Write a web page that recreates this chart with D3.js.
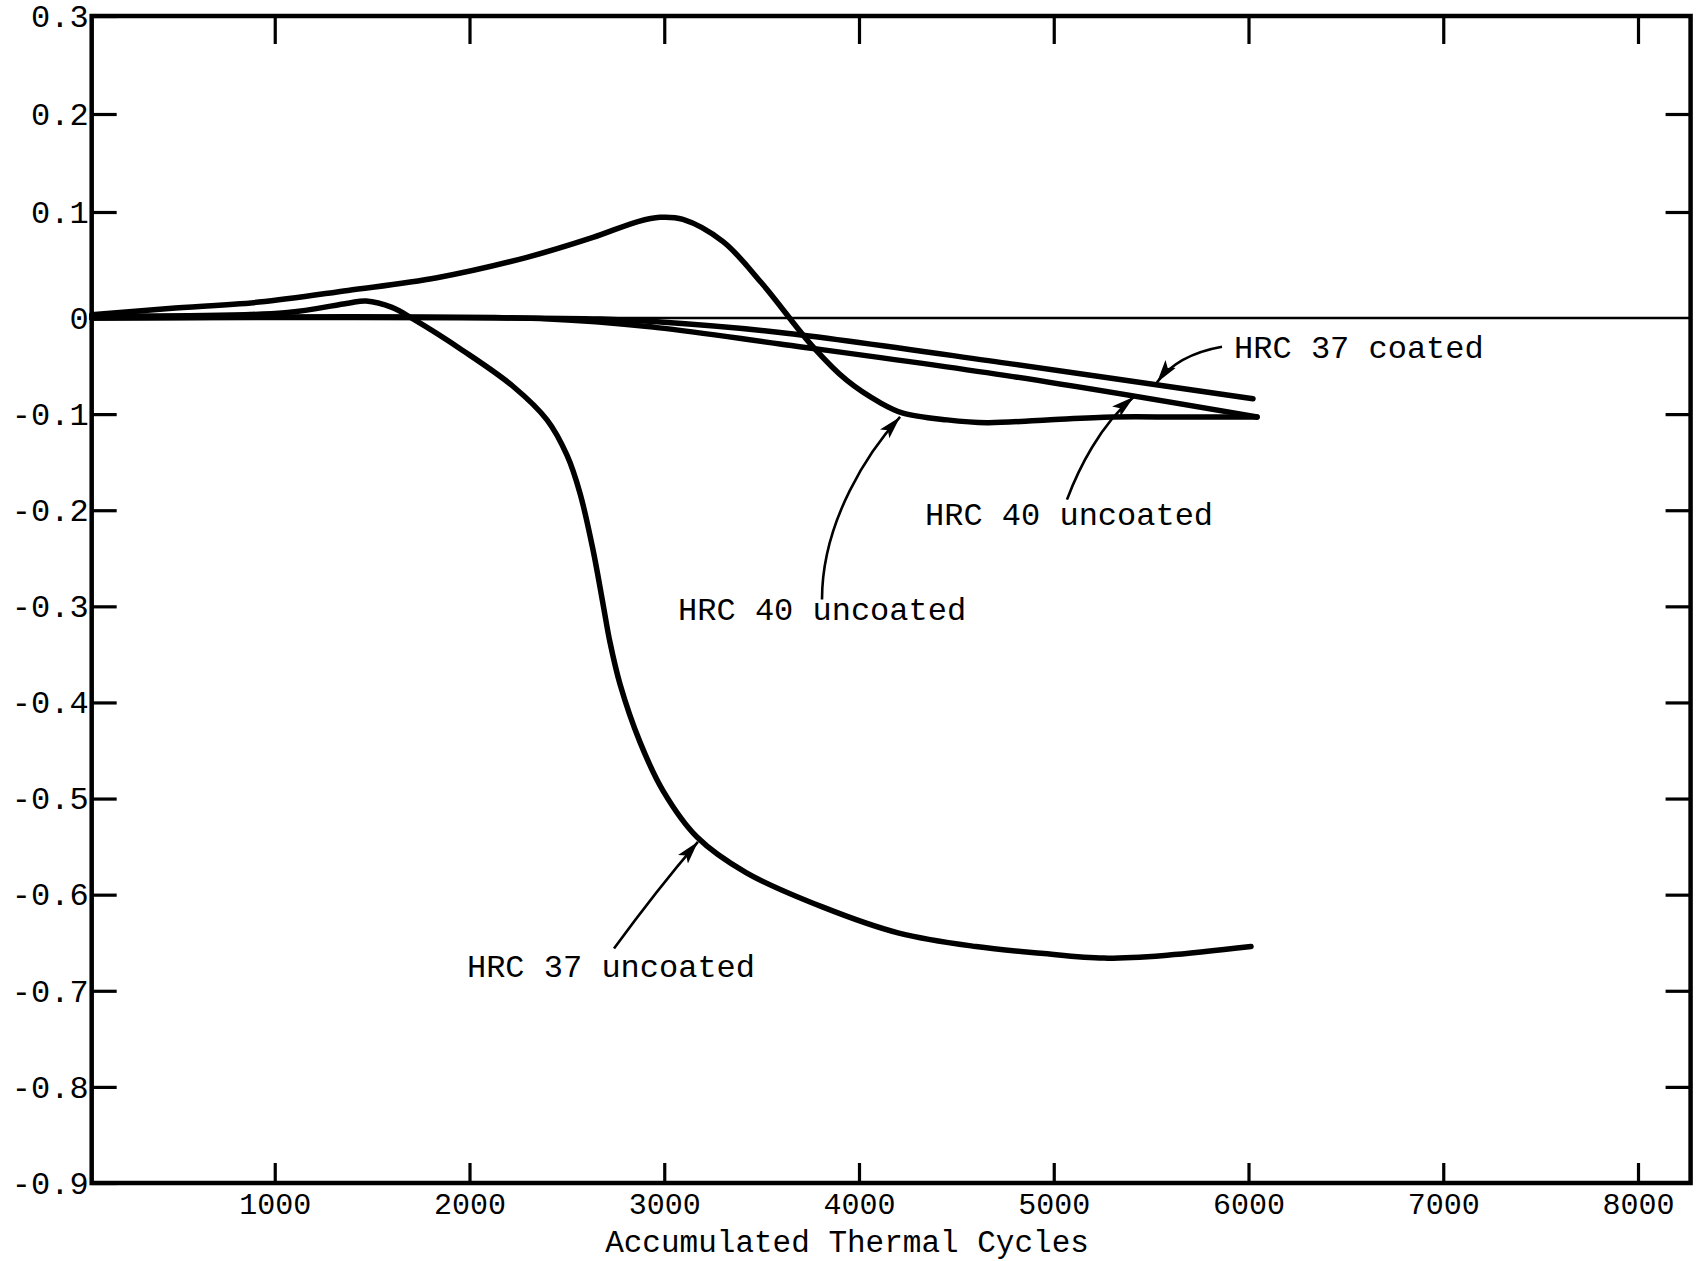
<!DOCTYPE html>
<html><head><meta charset="utf-8">
<script src="https://cdn.jsdelivr.net/npm/d3@7"></script>
<style>
html,body{margin:0;padding:0;background:#fff;}
svg{display:block;}
</style></head><body>
<svg id="chart" width="1697" height="1261"></svg>
<script>
// ---- tick values / labels ----
const xTicks = [1000, 2000, 3000, 4000, 5000, 6000, 7000, 8000];
const yTicks = [0.3, 0.2, 0.1, 0, -0.1, -0.2, -0.3, -0.4, -0.5, -0.6, -0.7, -0.8, -0.9];
const yTickLabels = ["0.3", "0.2", "0.1", "0", "-0.1", "-0.2", "-0.3", "-0.4", "-0.5", "-0.6", "-0.7", "-0.8", "-0.9"];
const xTitle = "Accumulated Thermal Cycles";

// ---- series ----
const hrc37UncoatedX = [60, 1053, 1376, 1469, 1602, 1710, 1967, 2223, 2398, 2501, 2567, 2634, 2686, 2721, 2773, 2875, 2994, 3168, 3420, 3815, 4205, 4601, 4935, 5258, 5582, 6013];
const hrc37UncoatedY = [0.002, 0.005, 0.014, 0.016, 0.010, -0.001, -0.034, -0.071, -0.106, -0.143, -0.182, -0.241, -0.298, -0.337, -0.381, -0.441, -0.492, -0.540, -0.577, -0.613, -0.640, -0.654, -0.661, -0.666, -0.663, -0.654];

const hrc40UncoatedAX = [60, 457, 919, 1376, 1833, 2290, 2634, 2865, 2978, 3096, 3302, 3500, 3764, 3938, 4108, 4226, 4452, 4657, 4965, 5304, 5648, 6044];
const hrc40UncoatedAY = [0.003, 0.009, 0.015, 0.026, 0.038, 0.057, 0.076, 0.091, 0.095, 0.093, 0.072, 0.033, -0.030, -0.065, -0.088, -0.099, -0.106, -0.109, -0.106, -0.103, -0.103, -0.103];

const hrc40UncoatedBX = [60, 2408, 2963, 3594, 4791, 6044];
const hrc40UncoatedBY = [0, -0.001, -0.010, -0.027, -0.061, -0.103];

const hrc37CoatedX = [60, 2670, 2963, 3594, 4791, 6023];
const hrc37CoatedY = [0, -0.001, -0.004, -0.015, -0.048, -0.084];

// ---- annotations (data coordinates) ----
const labelTexts = ["HRC 37 coated", "HRC 40 uncoated", "HRC 40 uncoated", "HRC 37 uncoated"];
const labelX = [5926, 4339, 3071, 1987];
const labelY = [-0.042, -0.215, -0.314, -0.686];
// arrow: start, control1, control2, tip
const arrowPts = [
  [[5864, -0.030], [5725, -0.035], [5607, -0.046], [5530, -0.067]],
  [[5068, -0.189], [5125, -0.158], [5238, -0.111], [5412, -0.082]],
  [[3810, -0.293], [3810, -0.210], [4057, -0.137], [4211, -0.103]],
  [[2742, -0.656], [2850, -0.626], [3004, -0.585], [3173, -0.545]]
];

// ---- layout ----
const FONT = "'Liberation Mono', 'Courier New', monospace";
const x = d3.scaleLinear().domain([0, 8000]).range([80, 1638]);
const y = d3.scaleLinear().domain([0.3, 0.1, 0, -0.9]).range([16, 212, 318, 1183]);
const frameX0 = x(60), frameX1 = x(8270), frameY0 = y(0.3), frameY1 = y(-0.9);

const svg = d3.select("#chart");
svg.append("rect").attr("width", 1697).attr("height", 1261).attr("fill", "#fff");

const defs = svg.append("defs");
defs.append("marker")
  .attr("id", "ah").attr("markerUnits", "userSpaceOnUse")
  .attr("markerWidth", 26).attr("markerHeight", 16)
  .attr("refX", 23).attr("refY", 7).attr("orient", "auto")
  .append("path").attr("d", "M0,0.5 L23,7 L0,13.5 L5,7 Z").attr("fill", "#000");

// axes
function styleAxis(g, showText, size) {
  g.select(".domain").remove();
  g.selectAll(".tick line").attr("stroke", "#000").attr("stroke-width", 3.2);
  if (!showText) g.selectAll(".tick text").remove();
  else g.selectAll(".tick text").attr("fill", "#000").attr("font-family", FONT).attr("font-size", size);
}

svg.append("g").attr("transform", `translate(${frameX0},0)`)
  .call(d3.axisLeft(y).tickValues(yTicks).tickFormat((d, i) => yTickLabels[i]).tickSize(-25).tickPadding(3))
  .call(g => styleAxis(g, true, 32));

svg.append("g").attr("transform", `translate(${frameX1},0)`)
  .call(d3.axisRight(y).tickValues(yTicks.filter(v => v !== 0.3 && v !== 0 && v !== -0.9)).tickSize(-25))
  .call(g => styleAxis(g, false));

svg.append("g").attr("transform", `translate(0,${frameY1})`)
  .call(d3.axisBottom(x).tickValues(xTicks).tickFormat(d3.format("d")).tickSize(-20))
  .call(g => styleAxis(g, true, 30))
  .call(g => g.selectAll(".tick text").attr("y", 31).attr("dy", 0));

svg.append("g").attr("transform", `translate(0,${frameY0})`)
  .call(d3.axisTop(x).tickValues(xTicks).tickSize(-28))
  .call(g => styleAxis(g, false));

// frame
svg.append("rect")
  .attr("x", frameX0).attr("y", frameY0)
  .attr("width", frameX1 - frameX0).attr("height", frameY1 - frameY0)
  .attr("fill", "none").attr("stroke", "#000").attr("stroke-width", 4.5);

// zero line
svg.append("line")
  .attr("x1", frameX0).attr("x2", frameX1).attr("y1", y(0)).attr("y2", y(0))
  .attr("stroke", "#000").attr("stroke-width", 2.6);

// x title
svg.append("text").attr("x", 847).attr("y", 1252)
  .attr("text-anchor", "middle").attr("font-family", FONT).attr("font-size", 31)
  .attr("fill", "#000").text(xTitle);

// series
const line = d3.line().x(d => x(d[0])).y(d => y(d[1])).curve(d3.curveCatmullRom.alpha(0.5));
const series = [
  [hrc37CoatedX, hrc37CoatedY],
  [hrc40UncoatedBX, hrc40UncoatedBY],
  [hrc40UncoatedAX, hrc40UncoatedAY],
  [hrc37UncoatedX, hrc37UncoatedY]
];
series.forEach(([xs, ys]) => {
  svg.append("path")
    .attr("d", line(xs.map((v, i) => [v, ys[i]])))
    .attr("fill", "none").attr("stroke", "#000")
    .attr("stroke-width", 5.5).attr("stroke-linecap", "round").attr("stroke-linejoin", "round");
});

// annotations
arrowPts.forEach(pts => {
  const p = d3.path();
  const P = pts.map(q => [x(q[0]), y(q[1])]);
  p.moveTo(P[0][0], P[0][1]);
  p.bezierCurveTo(P[1][0], P[1][1], P[2][0], P[2][1], P[3][0], P[3][1]);
  svg.append("path").attr("d", p.toString())
    .attr("fill", "none").attr("stroke", "#000").attr("stroke-width", 2.6)
    .attr("marker-end", "url(#ah)");
});
labelTexts.forEach((t, i) => {
  svg.append("text").attr("x", x(labelX[i])).attr("y", y(labelY[i]))
    .attr("font-family", FONT).attr("font-size", 32).attr("fill", "#000").text(t);
});
</script>
</body></html>
